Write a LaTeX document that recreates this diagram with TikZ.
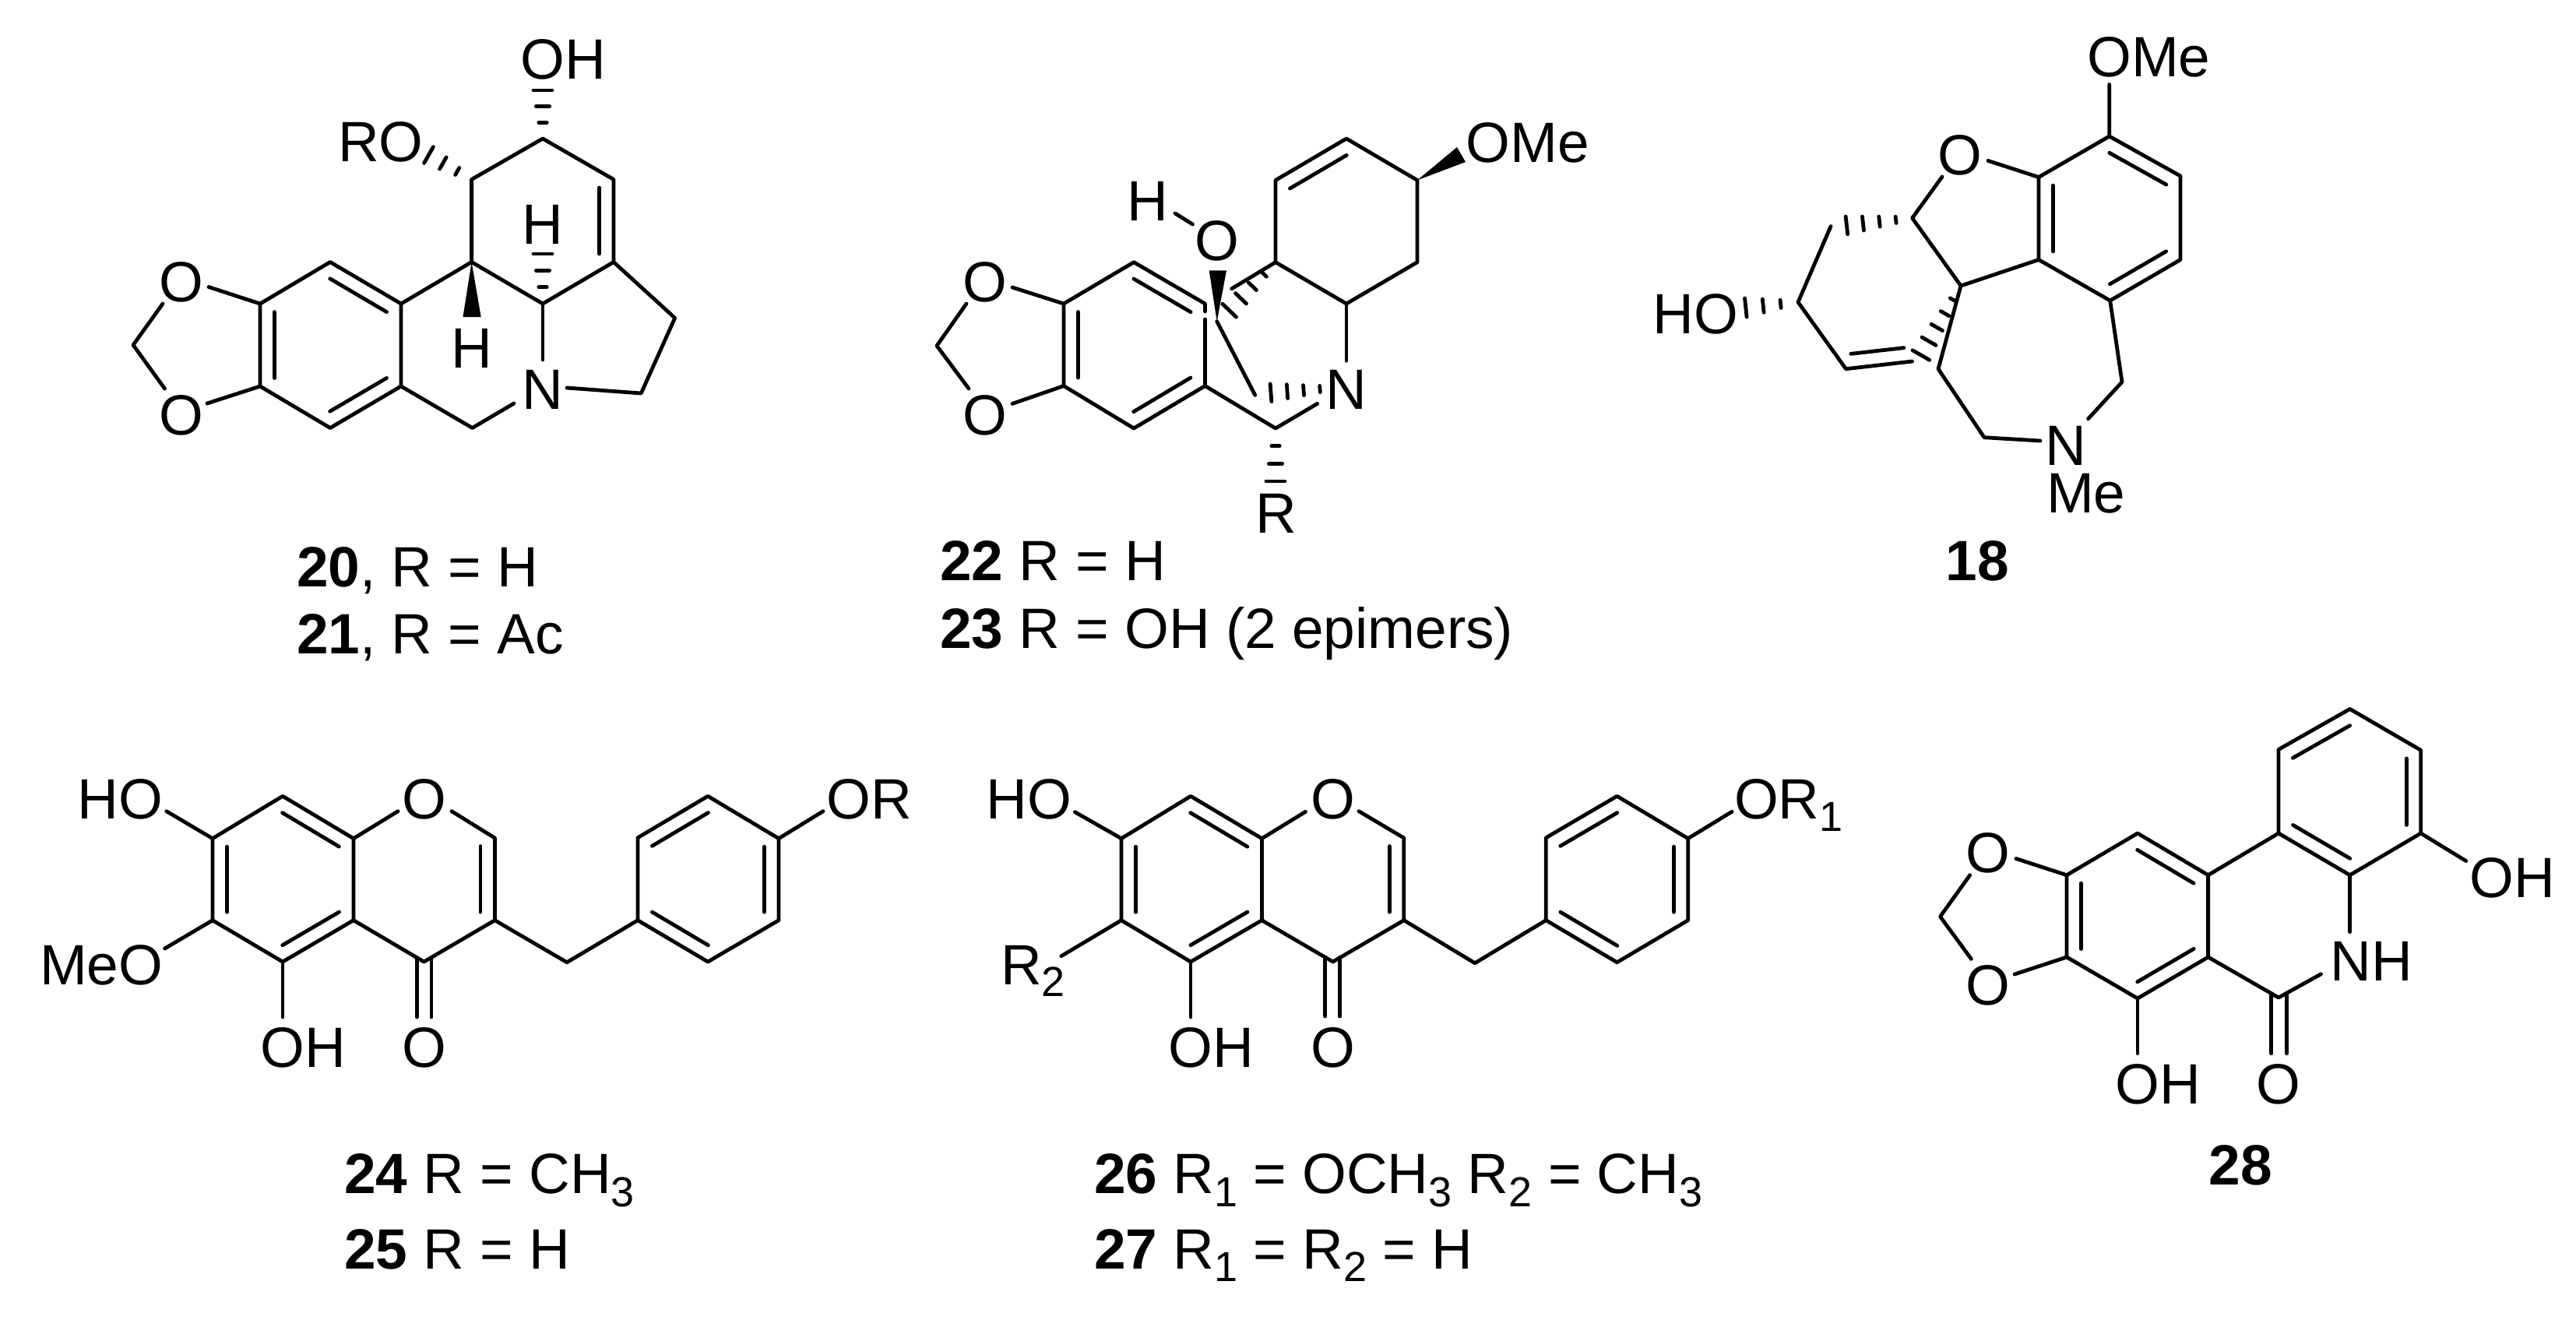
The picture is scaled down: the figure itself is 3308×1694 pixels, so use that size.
\documentclass[tikz,border=0pt]{standalone}
\usepackage{fontspec}
\setmainfont{Liberation Sans}
\usetikzlibrary{calc}
\newcommand{\C}[3]{\coordinate (#1) at (#2,#3);}
\newcommand{\dbl}[2]{\draw[bond] ($(#1)!.1!(#2)!4.625pt!90:(#2)$) -- ($(#2)!.1!(#1)!4.625pt!-90:(#1)$);}
\newcommand{\hashb}[4]{\foreach \k in {1,...,#4}{%
  \pgfmathsetmacro{\tt}{\k/#4}%
  \pgfmathsetmacro{\ww}{#3*(0.15+0.85*\tt)*0.25}%
  \coordinate (hp) at ($(#1)!\tt!(#2)$);%
  \draw[bond] ($(hp)!\ww pt!90:(#1)$) -- ($(hp)!\ww pt!-90:(#1)$);}}
\newcommand{\sbc}[1]{\raisebox{-4.2pt}{\fontsize{13.5}{14}\selectfont #1}}
\newcommand{\sbl}[1]{\raisebox{-3.9pt}{\fontsize{13.5}{14}\selectfont #1}}
\newcommand{\isoflavone}[1]{%
  \draw[bond] (#1O1) -- (#11) -- (#12) -- (#13) -- (#14) -- (#15) -- (#16) -- (#11);
  \draw[bond] (#12) -- (#1O2);
  \draw[bond] (#15) -- (#1O3);
  \draw[bond] (#1O4) -- (#17) -- (#18) -- (#19) -- (#14);
  \draw[bond] (#13) -- (#1O5);
  \draw[bond] (#1O6a) -- (#1O6b);
  \draw[bond] (#1O7a) -- (#1O7b);
  \draw[bond] (#18) -- (#110) -- (#111) -- (#112) -- (#113) -- (#114) -- (#115) -- (#116) -- (#111);
  \draw[bond] (#114) -- (#1O8);
  \dbl{#11}{#12}\dbl{#13}{#14}\dbl{#15}{#16}\dbl{#18}{#17}
  \dbl{#113}{#112}\dbl{#111}{#116}\dbl{#115}{#114}}
\tikzset{
  bond/.style={line width=1.2pt,line cap=round,line join=round,black},
  lbl/.style={anchor=base west,inner sep=0pt,outer sep=0pt,font=\fontsize{18.25}{20}\selectfont},
  atm/.style={anchor=base,inner sep=0pt,outer sep=0pt,font=\fontsize{18.25}{20}\selectfont},
  wedgeb/.style={fill=black,draw=none}
}
\begin{document}
\begin{tikzpicture}[x=0.25pt,y=-0.25pt]
\path[use as bounding box,fill=white] (0,0) rectangle (3308,1694);
%% ---------- 20 / 21
\C{a1}{171}{443}\C{a2}{334}{390}\C{a3}{334}{496}\C{a4}{424}{336.5}\C{a5}{515}{390}\C{a6}{515}{496}
\C{a7}{424}{549.5}\C{a8}{605.6}{336.5}\C{a9}{605.6}{230.4}\C{a10}{697}{178}\C{a11}{788}{230.4}
\C{a12}{788}{336.5}\C{a13}{697}{390}\C{a14}{606.6}{549.5}\C{a15}{866.7}{408.3}\C{a16}{823.3}{505}
\C{aO1}{268}{368.5}\C{aO2}{209}{390}\C{aO3}{266}{518}\C{aO4}{211.5}{499}
\C{aN1}{660}{518}\C{aN2}{697}{462}\C{aN3}{728}{498}
\C{aH1}{697}{116}\C{aH2}{697}{326}\C{aH3}{550.5}{199}
\draw[bond] (aO2) -- (a1) -- (aO4);
\draw[bond] (aO1) -- (a2) -- (a3) -- (aO3);
\draw[bond] (a2) -- (a4) -- (a5) -- (a6) -- (a7) -- (a3);
\draw[bond] (a5) -- (a8) -- (a9) -- (a10) -- (a11) -- (a12) -- (a13) -- (a8);
\draw[bond] (a13) -- (aN2);
\draw[bond] (a6) -- (a14) -- (aN1);
\draw[bond] (a12) -- (a15) -- (a16) -- (aN3);
\dbl{a2}{a3}\dbl{a7}{a6}\dbl{a5}{a4}\dbl{a12}{a11}
\fill[wedgeb] (a8) -- (594.5,407) -- (617.7,407) -- cycle;
\hashb{a10}{aH1}{12}{3}\hashb{a13}{aH2}{12}{3}\hashb{a9}{aH3}{12}{3}
\node[lbl] (aOH) at (668.5,101) {OH};
\node[lbl] (aRO) at (434,207) {RO};
\node[atm] (aOt) at (233,387) {O};
\node[atm] (aOb) at (233,558) {O};
\node[atm] (aHd) at (605.6,472.5) {H};
\node[atm] (aHu) at (697,313) {H};
\node[atm] (aN) at (697,525) {N};
\node[lbl] (cap20) at (381,753) {\textbf{20}, R = H};
\node[lbl] (cap21) at (381,839) {\textbf{21}, R = Ac};
%% ---------- 22 / 23
\C{b1}{1203}{444}\C{b2}{1366}{390}\C{b3}{1366}{495.5}\C{b4}{1456}{336.7}\C{b5}{1547.5}{390}\C{b6}{1547.5}{495.5}
\C{b7}{1456}{550}\C{b8}{1638}{550}\C{b9}{1638}{336.7}\C{b10}{1729}{390}\C{b11}{1820}{336.7}\C{b12}{1820}{231.4}
\C{b13}{1729}{178}\C{b14}{1638}{231.4}
\C{bO1}{1300}{369}\C{bO2}{1241}{390}\C{bO3}{1300}{518.4}\C{bO4}{1244}{499}
\C{bG1}{1547.5}{400}\C{bG2}{1547.5}{410}
\C{bN1}{1691.7}{518.3}\C{bN2}{1729}{463.3}
\C{bS1}{1581.7}{370.7}\C{bW}{1562.7}{412.7}\C{bS2}{1611.7}{507.3}
\C{bH1}{1509}{274}\C{bH2}{1531.5}{288}
\C{bH3}{1578.7}{398.7}\C{bH4}{1716}{498}\C{bH5}{1632}{504.2}\C{bH6}{1638}{618}
\draw[bond] (bO2) -- (b1) -- (bO4);
\draw[bond] (bO1) -- (b2) -- (b3) -- (bO3);
\draw[bond] (b2) -- (b4) -- (b5) -- (bG1);
\draw[bond] (bG2) -- (b6) -- (b7) -- (b3);
\draw[bond] (b6) -- (b8) -- (bN1);
\draw[bond] (b9) -- (b14) -- (b13) -- (b12) -- (b11) -- (b10) -- (b9);
\draw[bond] (b10) -- (bN2);
\draw[bond] (b9) -- (bS1);
\draw[bond] (bW) -- (bS2);
\draw[bond] (bH1) -- (bH2);
\dbl{b2}{b3}\dbl{b7}{b6}\dbl{b5}{b4}\dbl{b13}{b14}
\fill[wedgeb] (bW) -- (1552.7,347.3) -- (1575,347.3) -- cycle;
\fill[wedgeb] (b12) -- (1871,189) -- (1882,208) -- cycle;
\hashb{b9}{bH3}{12.2}{4}\hashb{bH4}{bH5}{11.3}{4}\hashb{b8}{bH6}{12}{3}
\node[atm] (bOt) at (1265,387) {O};
\node[atm] (bOb) at (1265,558) {O};
\node[lbl] (bOMe) at (1882.5,208.5) {OMe};
\node[atm] (bH) at (1473.5,283) {H};
\node[atm] (bO) at (1563,334) {O};
\node[atm] (bN) at (1729.3,525) {N};
\node[atm] (bR) at (1639,684) {R};
\node[lbl] (cap22) at (1207,745) {\textbf{22} R = H};
\node[lbl] (cap23) at (1207,832) {\textbf{23} R = OH (2 epimers)};
%% ---------- 18
\C{c1}{2708.7}{175}\C{c2}{2800}{226}\C{c3}{2800}{333.5}\C{c4}{2709.7}{386}\C{c5}{2618}{333.5}\C{c6}{2618}{227.5}
\C{c7}{2455.6}{280}\C{c8}{2518}{367}\C{c9}{2489}{473.7}\C{c10}{2548}{561.7}\C{c11}{2725}{490.5}
\C{c12}{2309}{388}\C{c13}{2370.4}{473.7}\C{c14}{2455.6}{464}\C{c15}{2351}{290.6}
\C{cO0}{2708.7}{108.4}\C{cO1}{2553}{206.4}\C{cO2}{2494}{227}\C{cN1}{2620}{566}\C{cN2}{2681.6}{537.7}
\C{cH1}{2371.4}{289.3}\C{cH2}{2241.8}{395}\C{cH3}{2466.8}{456}
\draw[bond] (cO0) -- (c1) -- (c2) -- (c3) -- (c4) -- (c5) -- (c6) -- (c1);
\draw[bond] (cO1) -- (c6);
\draw[bond] (cO2) -- (c7) -- (c8) -- (c5);
\draw[bond] (c8) -- (c9) -- (c10) -- (cN1);
\draw[bond] (cN2) -- (c11) -- (c4);
\draw[bond] (c15) -- (c12) -- (c13) -- (c14);
\dbl{c2}{c1}\dbl{c4}{c3}\dbl{c6}{c5}\dbl{c13}{c14}
\hashb{c7}{cH1}{11.4}{4}\hashb{c12}{cH2}{12}{3}\hashb{c8}{cH3}{12.5}{5}
\node[lbl] (cOMe) at (2680.3,98) {OMe};
\node[atm] (cO) at (2517,224.5) {O};
\node[lbl] (cHO) at (2122.5,428) {HO};
\node[atm] (cN) at (2652.6,597.5) {N};
\node[lbl] (cMe) at (2628,658.5) {Me};
\node[atm] (cap18) at (2539,745) {\textbf{18}};
%% ---------- 24 / 25
\C{d1}{273}{1076.7}\C{d2}{273}{1181.7}\C{d3}{363}{1235}\C{d4}{454}{1181.7}\C{d5}{454}{1076.7}\C{d6}{363}{1022.3}
\C{d7}{635.4}{1076}\C{d8}{635.4}{1181.7}\C{d9}{544.4}{1235}\C{d10}{728}{1235.7}\C{d11}{819}{1181.7}\C{d12}{819}{1075.7}
\C{d13}{909}{1022.3}\C{d14}{1000}{1076.7}\C{d15}{1000}{1181.7}\C{d16}{909}{1235}
\C{dO1}{213.8}{1041.7}\C{dO2}{211.6}{1218}\C{dO3}{511}{1041.7}\C{dO4}{580}{1041.7}\C{dO5}{363}{1306}
\C{dO6a}{535.6}{1229.5}\C{dO6b}{535.6}{1306}\C{dO7a}{554}{1229.5}\C{dO7b}{554}{1306}\C{dO8}{1057}{1041.7}
\isoflavone{d}
\node[lbl] (dHO) at (99.5,1051.7) {HO};
\node[lbl] (dMeO) at (51,1264) {MeO};
\node[lbl] (dOH) at (334.5,1370) {OH};
\node[atm] (dO) at (544.4,1370) {O};
\node[atm] (dOr) at (544.4,1051.7) {O};
\node[lbl] (dOR) at (1061.5,1051.7) {OR};
\node[lbl] (cap24) at (442,1532.7) {\textbf{24} R = CH\sbc{3}};
\node[lbl] (cap25) at (442,1629) {\textbf{25} R = H};
%% ---------- 26 / 27
\C{e1}{1440}{1076.7}\C{e2}{1440}{1181.7}\C{e3}{1529}{1235}\C{e4}{1620.4}{1181.7}\C{e5}{1620.4}{1076.7}\C{e6}{1529}{1022.3}
\C{e7}{1802.8}{1076}\C{e8}{1802.8}{1181.7}\C{e9}{1711.6}{1235}\C{e10}{1894}{1236.7}\C{e11}{1985.3}{1181.7}\C{e12}{1985.3}{1075.7}
\C{e13}{2076.5}{1022.3}\C{e14}{2167.7}{1076.7}\C{e15}{2167.7}{1181.7}\C{e16}{2076.5}{1235.7}
\C{eO1}{1380.4}{1042.7}\C{eO2}{1362.8}{1227.7}\C{eO3}{1676.5}{1042.3}\C{eO4}{1745}{1041.7}\C{eO5}{1529}{1306}
\C{eO6a}{1701.8}{1229.5}\C{eO6b}{1701.8}{1305}\C{eO7a}{1720.7}{1229.5}\C{eO7b}{1720.7}{1305}\C{eO8}{2224}{1042.3}
\isoflavone{e}
\node[lbl] (eHO) at (1266.4,1051.7) {HO};
\node[lbl] (eR) at (1285,1264) {R\sbl{2}};
\node[lbl] (eOH) at (1500.5,1370) {OH};
\node[atm] (eO) at (1711.6,1370) {O};
\node[atm] (eOr) at (1711.6,1051.7) {O};
\node[lbl] (eOR) at (2227,1051.7) {OR\sbl{1}};
\node[lbl] (cap26) at (1405,1532.7) {\textbf{26} R\sbc{1} = OCH\sbc{3} R\sbc{2} = CH\sbc{3}};
\node[lbl] (cap27) at (1405,1629) {\textbf{27} R\sbc{1} = R\sbc{2} = H};
%% ---------- 28
\C{f1}{2491.5}{1177}\C{f2}{2654}{1123.7}\C{f3}{2654}{1229}\C{f4}{2745}{1070}\C{f5}{2835.6}{1123.7}\C{f6}{2835.6}{1229}
\C{f7}{2745}{1282}\C{f8}{2926}{1070}\C{f9}{2926}{962.4}\C{f10}{3017.6}{910.4}\C{f11}{3108.7}{963.3}\C{f12}{3108.7}{1070}
\C{f13}{3017.6}{1123.7}\C{f14}{2926}{1281}
\C{fO1}{2588.8}{1102.5}\C{fO2}{2529.7}{1123.7}\C{fO3}{2587}{1251}\C{fO4}{2531.3}{1231.3}\C{fO5}{2745}{1352.7}
\C{fO6a}{2916.7}{1275.5}\C{fO6b}{2916.7}{1352.7}\C{fO7a}{2936.6}{1275.5}\C{fO7b}{2936.6}{1352.7}
\C{fN1}{3017.6}{1196.6}\C{fN2}{2980.5}{1250.8}\C{fO8}{3166.7}{1105.5}
\draw[bond] (fO2) -- (f1) -- (fO4);
\draw[bond] (fO1) -- (f2) -- (f3) -- (fO3);
\draw[bond] (f2) -- (f4) -- (f5) -- (f6) -- (f7) -- (f3);
\draw[bond] (f5) -- (f8) -- (f9) -- (f10) -- (f11) -- (f12) -- (f13) -- (f8);
\draw[bond] (f12) -- (fO8);
\draw[bond] (f13) -- (fN1);
\draw[bond] (f6) -- (f14) -- (fN2);
\draw[bond] (f7) -- (fO5);
\draw[bond] (fO6a) -- (fO6b);
\draw[bond] (fO7a) -- (fO7b);
\dbl{f2}{f3}\dbl{f7}{f6}\dbl{f5}{f4}\dbl{f10}{f9}\dbl{f8}{f13}\dbl{f12}{f11}
\node[atm] (fOt) at (2553,1120) {O};
\node[atm] (fOb) at (2553,1290) {O};
\node[lbl] (fNH) at (2992.5,1259.4) {NH};
\node[lbl] (fOHb) at (2716.5,1417) {OH};
\node[atm] (fO) at (2926,1417) {O};
\node[lbl] (fOHr) at (3171.5,1152.3) {OH};
\node[atm] (cap28) at (2877,1521) {\textbf{28}};
\end{tikzpicture}
\end{document}
